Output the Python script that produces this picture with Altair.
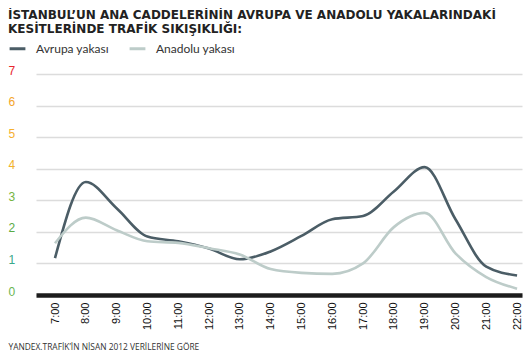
import altair as alt
import pandas as pd

hours = [7, 8, 9, 10, 11, 12, 13, 14, 15, 16, 17, 18, 19, 20, 21, 22]
avrupa = [1.17, 3.58, 2.75, 1.85, 1.70, 1.47, 1.13, 1.38, 1.87, 2.40, 2.50, 3.28, 4.05, 2.40, 0.90, 0.62]
anadolu = [1.64, 2.45, 2.05, 1.70, 1.65, 1.48, 1.28, 0.82, 0.70, 0.67, 1.00, 2.15, 2.60, 1.32, 0.57, 0.20]
series = ["Avrupa yakası", "Anadolu yakası"]
colors = ["#4b5d66", "#bdccc9"]
y_ticks = [0, 1, 2, 3, 4, 5, 6, 7]
y_label_colors = ["#6ab550", "#3aa98a", "#5aab44", "#74b43f", "#f2b12a", "#f6b02e", "#f4a52a", "#e8262e"]
title_lines = ["İSTANBUL’UN ANA CADDELERİNİN AVRUPA VE ANADOLU YAKALARINDAKİ",
               "KESİTLERİNDE TRAFİK SIKIŞIKLIĞI:"]
footer = "YANDEX.TRAFİK’İN NİSAN 2012 VERİLERİNE GÖRE"

df = pd.DataFrame({"hour": hours, series[0]: avrupa, series[1]: anadolu})
long = df.melt(id_vars="hour", var_name="series", value_name="value")

label_color = {
    "condition": [{"test": f"datum.value == {v}", "value": c} for v, c in zip(y_ticks, y_label_colors)],
    "value": "#333333",
}

chart = alt.Chart(long).mark_line(interpolate="monotone", strokeWidth=2.6).encode(
    x=alt.X("hour:Q",
            scale=alt.Scale(domain=[6.383, 22.16], nice=False, zero=False),
            axis=alt.Axis(values=hours, labelExpr="datum.value + ':00'", labelAngle=270,
                          labelAlign="right", labelBaseline="middle", labelPadding=7,
                          labelFont="Liberation Sans", labelFontSize=11, labelColor="#111111",
                          ticks=False, tickSize=0, grid=False, domainColor="#1c1c1c", domainWidth=4.5,
                          title=footer, titleFont="Open Sans", titleFontSize=8.4, titleFontWeight="normal",
                          titleColor="#333333", titleAnchor="start", titleAlign="left",
                          titleBaseline="alphabetic", titleX=-28, titleY=54, labelFlush=False)),
    y=alt.Y("value:Q",
            scale=alt.Scale(domain=[0, 7], nice=False),
            axis=alt.Axis(values=y_ticks, grid=True, gridColor="#dcdcdc", gridWidth=1.5,
                          domain=False, ticks=False, tickSize=0, labelAlign="left",
                          labelBaseline="alphabetic", labelPadding=28, labelFont="Liberation Sans",
                          labelFontSize=12, labelColor=label_color, title=None)),
    color=alt.Color("series:N", sort=series,
                    scale=alt.Scale(domain=series, range=colors),
                    legend=alt.Legend(title=None, orient="none", legendX=-28, legendY=-35,
                                      direction="horizontal", symbolType="stroke",
                                      symbolStrokeWidth=3, symbolSize=250, labelFont="Lato",
                                      labelFontSize=12, labelColor="#333333", labelOffset=9,
                                      columnPadding=14)),
).properties(
    width=486, height=221,
    autosize=alt.AutoSizeParams(type="none"),
    padding={"left": 28, "top": 66, "right": 1, "bottom": 55},
    title=alt.TitleParams(title_lines, anchor="start", frame="group", dx=-28, dy=27,
                          font="DejaVu Sans", fontSize=12, fontWeight="bold", color="#222222",
                          lineHeight=14, offset=30),
).configure_view(stroke=None)

chart.save("out.html", embed_options={"renderer": "svg", "actions": False})
